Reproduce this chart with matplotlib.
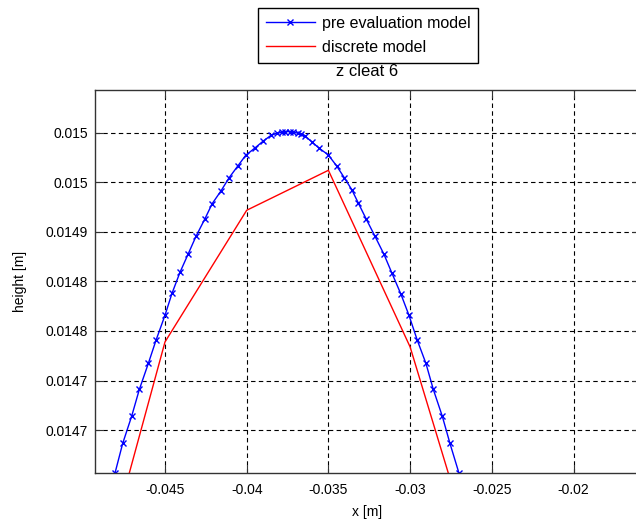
import numpy as np
import matplotlib.pyplot as plt

plt.rcParams['font.family'] = ['Liberation Sans', 'DejaVu Sans']
plt.rcParams['font.size'] = 10

# pre evaluation model
x_pre = [-0.04806, -0.04759, -0.04704, -0.04657, -0.04602, -0.04555, -0.04500,
         -0.04457, -0.04408, -0.04359, -0.04310, -0.04255, -0.04211, -0.04157,
         -0.04108, -0.04056, -0.04006, -0.03952, -0.03901, -0.03851, -0.03815,
         -0.03787, -0.03763, -0.03738, -0.03714, -0.03689, -0.03665, -0.03643,
         -0.03603, -0.03556, -0.03501, -0.03450, -0.03403, -0.03357, -0.03317,
         -0.03270, -0.03215, -0.03160, -0.03111, -0.03056, -0.03007, -0.02956,
         -0.02903, -0.02858, -0.02803, -0.02756, -0.02701]
y_pre = [0.0146566, 0.0146865, 0.0147140, 0.0147410, 0.0147672, 0.0147906, 0.0148158,
         0.0148380, 0.0148592, 0.0148773, 0.0148955, 0.0149133, 0.0149284, 0.0149413,
         0.0149544, 0.0149660, 0.0149771, 0.0149842, 0.0149912, 0.0149973, 0.0149993,
         0.0150003, 0.0150010, 0.0150010, 0.0150003, 0.0149996, 0.0149983, 0.0149966,
         0.0149909, 0.0149842, 0.0149776, 0.0149665, 0.0149546, 0.0149425, 0.0149290,
         0.0149133, 0.0148955, 0.0148773, 0.0148582, 0.0148370, 0.0148158, 0.0147906,
         0.0147672, 0.0147410, 0.0147140, 0.0146865, 0.0146566]

# discrete model
x_disc = [-0.050, -0.045, -0.040, -0.035, -0.030, -0.025]
y_disc = [0.0144862, 0.0147889, 0.0149217, 0.0149620, 0.0147839, 0.0145117]

xticks = [-0.045, -0.04, -0.035, -0.03, -0.025, -0.02]
xtick_labels = ['-0.045', '-0.04', '-0.035', '-0.03', '-0.025', '-0.02']
yticks = [0.01470, 0.01475, 0.01480, 0.01485, 0.01490, 0.01495, 0.01500]
ytick_labels = ['0.0147', '0.0147', '0.0148', '0.0148', '0.0149', '0.015', '0.015']

fig = plt.figure(figsize=(6.36, 5.23), dpi=100)
ax = fig.add_axes([0.1489, 0.0950, 0.8574, 0.7335])

l1, = ax.plot(x_pre, y_pre, color='#0000ff', marker='x', markersize=5, lw=1,
              markeredgewidth=1, label='pre evaluation model')
l2, = ax.plot(x_disc, y_disc, color='#ff0000', lw=1, label='discrete model')

ax.set_xlim(-0.049302, -0.01593)
ax.set_ylim(0.0146564, 0.0150433)
ax.set_xticks(xticks)
ax.set_xticklabels(xtick_labels)
ax.set_yticks(yticks)
ax.set_yticklabels(ytick_labels)

ax.grid(True, color='black', linestyle=(0, (4, 3)), lw=0.8)
ax.tick_params(direction='in', length=6, width=0.8, color='#333333',
               top=True, right=True, pad=5)
ax.tick_params(axis='x', pad=7)
for s in ax.spines.values():
    s.set_color('#333333')
    s.set_linewidth(1)

ax.set_xlabel('x [m]', labelpad=6)
ax.set_ylabel('height [m]', labelpad=13)
ax.set_title('z cleat 6', pad=10)

leg = fig.legend(handles=[l1, l2], loc='upper center',
                 bbox_to_anchor=(368 / 636, 1 - 8 / 523),
                 fancybox=False, framealpha=1, edgecolor='black',
                 prop={'size': 11.5},
                 handlelength=3.1, handletextpad=0.4, labelspacing=0.55,
                 borderpad=0.5, borderaxespad=0)
leg.get_frame().set_linewidth(1)

fig.savefig('out.png', dpi=100)
